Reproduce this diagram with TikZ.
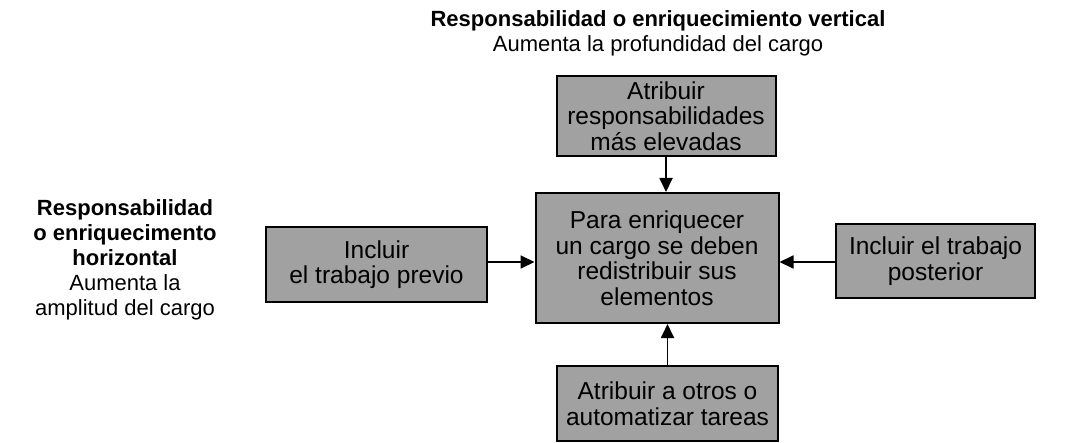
\documentclass[tikz,border=0pt]{standalone}
\usepackage{fontspec}
\setmainfont{Liberation Sans}
\usetikzlibrary{arrows.meta}
\tikzset{
  box/.style={draw=black, line width=2pt, fill=black!37, align=center, inner sep=0pt,
    font=\fontsize{24.5}{25.5}\selectfont, text=black},
  conn/.style={line width=1.8pt, -{Triangle[length=14pt,width=13pt]}},
  title/.style={align=center, inner sep=0pt, font=\fontsize{22}{25}\selectfont, text=black}
}
\begin{document}
\begin{tikzpicture}[x=1pt,y=-1pt]
\useasboundingbox (0,0) rectangle (1086,443);
\node[title, anchor=north] (vt) at (658,10) {\textbf{Responsabilidad o enriquecimiento vertical}\\Aumenta la profundidad del cargo};
\node[title, anchor=north] (ht) at (125,199) {\textbf{Responsabilidad}\\\textbf{o enriquecimento}\\\textbf{horizontal}\\Aumenta la\\amplitud del cargo};
\node[box, minimum width=219pt, minimum height=80pt] (top) at (666,116) {Atribuir\\responsabilidades\\más elevadas};
\node[box, minimum width=243pt, minimum height=130pt] (center) at (657,258) {Para enriquecer\\un cargo se deben\\redistribuir sus\\elementos};
\node[box, minimum width=221pt, minimum height=75pt] (left) at (376.5,264.5) {Incluir\\el trabajo previo};
\node[box, minimum width=199pt, minimum height=74pt] (right) at (935.5,261) {Incluir el trabajo\\posterior};
\node[box, minimum width=221pt, minimum height=75pt] (bottom) at (667.5,403.5) {Atribuir a otros o\\automatizar tareas};
\draw[conn] (top.south) -- (top.south |- center.north);
\draw[conn] (bottom.north) -- (bottom.north |- center.south);
\draw[conn] (left.east |- 0,262) -- (center.west |- 0,262);
\draw[conn] (right.west |- 0,262) -- (center.east |- 0,262);
\end{tikzpicture}
\end{document}
